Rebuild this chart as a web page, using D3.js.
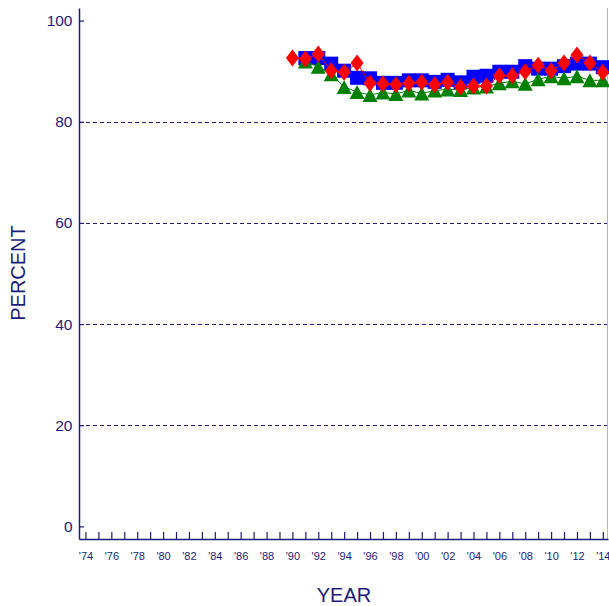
<!DOCTYPE html>
<html>
<head>
<meta charset="utf-8">
<script src="https://cdn.jsdelivr.net/npm/d3@7"></script>
<style>
  html, body { margin: 0; padding: 0; background: #fff; }
  svg { display: block; }
  text { font-family: "Liberation Sans", Arial, sans-serif; }
</style>
</head>
<body>
<svg id="chart" width="609" height="606"></svg>
<script>
// ---- data ----
const years = [1990, 1991, 1992, 1993, 1994, 1995, 1996, 1997, 1998, 1999, 2000, 2001, 2002,
               2003, 2004, 2005, 2006, 2007, 2008, 2009, 2010, 2011, 2012, 2013, 2014];
const blueSquares = [null, 92.6, 92.6, 91.5, 90.1, 88.7, 88.6, 87.7, 87.7, 88.2, 88.2, 87.9, 88.3,
                     87.8, 88.9, 89.1, 89.9, 89.9, 91.0, 90.5, 90.5, 91.0, 91.5, 91.5, 90.8];
const greenTriangles = [null, 91.9, 90.9, 89.4, 86.9, 85.9, 85.3, 85.8, 85.5, 86.2, 85.6, 86.2, 86.4,
                        86.3, 86.8, 87.0, 87.6, 88.0, 87.5, 88.4, 89.0, 88.6, 89.0, 88.2, 88.2];
const redDiamonds = [92.6, 92.4, 93.4, 90.1, 89.8, 91.6, 87.6, 87.5, 87.3, 87.6, 87.8, 87.3, 87.8,
                     86.9, 87.1, 87.1, 89.1, 89.1, 89.9, 91.2, 90.1, 91.6, 93.2, 91.6, 89.8];
const yTicks = [0, 20, 40, 60, 80, 100];
const gridValues = [20, 40, 60, 80];
const xTickYears = d3.range(1974, 2015);
const xTitle = "YEAR";
const yTitle = "PERCENT";

// ---- layout ----
const navy = "#1c1c78";
const svg = d3.select("#chart");
const x = d3.scaleLinear().domain([1973.5, 2014.4]).range([79, 608]);
const y = d3.scaleLinear().domain([-2.5, 102.5]).range([539, 8]);

// gridlines
svg.append("g").selectAll("line").data(gridValues).join("line")
  .attr("x1", 79).attr("x2", 608)
  .attr("y1", d => Math.round(y(d)) + 0.5).attr("y2", d => Math.round(y(d)) + 0.5)
  .attr("stroke", navy).attr("stroke-width", 1).attr("stroke-dasharray", "4,3");

// right border
svg.append("line").attr("x1", 607.5).attr("x2", 607.5).attr("y1", 8).attr("y2", 539)
  .attr("stroke", "#b4b4d2").attr("stroke-width", 1);

// series
const series = [
  { vals: blueSquares, color: "#0000ff", shape: "square" },
  { vals: greenTriangles, color: "#008000", shape: "triangle" },
  { vals: redDiamonds, color: "#ff0000", shape: "diamond" }
];
function shapePath(shape) {
  if (shape === "square") return "M-7,-7H7V7H-7Z";
  if (shape === "triangle") return "M0,-7L7.5,7H-7.5Z";
  return "M0,-8.5L6.5,0L0,8.5L-6.5,0Z";
}
const plot = svg.append("g");
series.forEach(s => {
  const pts = years.map((yr, i) => ({ yr, v: s.vals[i] })).filter(p => p.v != null);
  plot.append("path").datum(pts)
    .attr("fill", "none").attr("stroke", s.color).attr("stroke-width", 1)
    .attr("d", d3.line().x(p => x(p.yr)).y(p => y(p.v)));
  plot.append("g").selectAll("path").data(pts).join("path")
    .attr("transform", p => `translate(${x(p.yr)},${y(p.v)})`)
    .attr("d", shapePath(s.shape))
    .attr("fill", s.color);
});

// x axis
const xAxis = d3.axisBottom(x)
  .tickValues(xTickYears)
  .tickSizeInner(-7).tickSizeOuter(0).tickPadding(13)
  .tickFormat(d => (d % 2 === 0) ? "'" + String(d).slice(2) : "");
const gx = svg.append("g").attr("transform", "translate(0,539)").call(xAxis);
gx.select(".domain").attr("stroke", navy).attr("stroke-width", 1.5);
gx.selectAll(".tick line").attr("stroke", navy).attr("stroke-width", 1.2);
gx.selectAll(".tick text").attr("fill", navy).attr("font-size", 11)
  .attr("font-family", "Liberation Sans, Arial, sans-serif");

// y axis
const yAxis = d3.axisLeft(y).tickValues(yTicks)
  .tickSizeInner(-5).tickSizeOuter(0).tickPadding(6.5);
const gy = svg.append("g").attr("transform", "translate(79,0)").call(yAxis);
gy.select(".domain").attr("stroke", navy).attr("stroke-width", 1.5);
gy.selectAll(".tick line").attr("stroke", navy).attr("stroke-width", 1.2);
gy.selectAll(".tick text").attr("fill", navy).attr("font-size", 15.5)
  .attr("font-family", "Liberation Sans, Arial, sans-serif");

// titles
svg.append("text").attr("x", 344).attr("y", 602).attr("text-anchor", "middle")
  .attr("fill", navy).attr("font-size", 20).text(xTitle);
svg.append("text").attr("transform", "translate(25,273) rotate(-90)")
  .attr("text-anchor", "middle").attr("fill", navy).attr("font-size", 20).text(yTitle);
</script>
</body>
</html>
